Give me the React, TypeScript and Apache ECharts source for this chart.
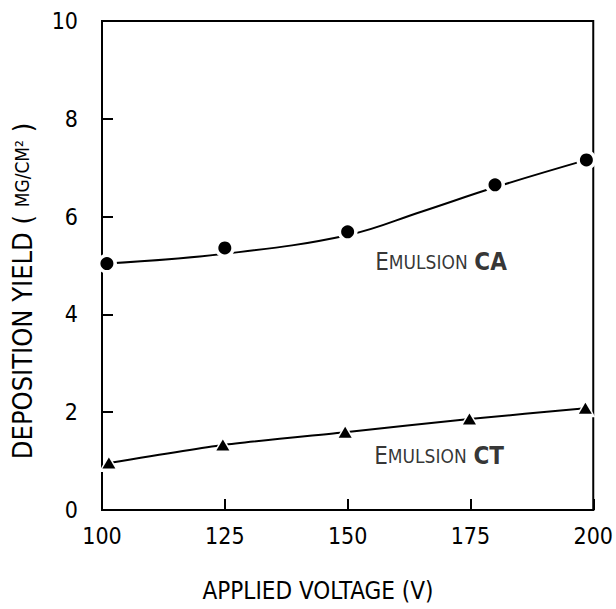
import React, { useEffect, useRef } from "react";
import * as echarts from "echarts";

const FONT = "'Liberation Sans Narrow', 'DejaVu Sans Condensed', 'Roboto Condensed', sans-serif";

// Marker data (applied voltage V, deposition yield mg/cm²)
const caX = [101, 125, 150, 180, 198.6];
const caY = [5.04, 5.36, 5.69, 6.65, 7.16];
const ctX = [101.4, 124.6, 149.5, 174.8, 198.4];
const ctY = [0.96, 1.33, 1.59, 1.86, 2.08];

// Drawn (fitted) curve for Emulsion CA
const caCurveX = [101, 125, 150, 165, 180, 199];
const caCurveY = [5.04, 5.24, 5.62, 6.1, 6.6, 7.17];

// Annotations
const annoText = ["CA", "CT"];
const annoX = [155.6, 155.4];
const annoY = [5.08, 1.1];

const xTitle = "APPLIED VOLTAGE (V)";
const yTitle = "DEPOSITION YIELD ( {s|MG/CM²} )";

const xTicks = { min: 100, max: 200, interval: 25 };
const yTicks = { min: 0, max: 10, interval: 2 };

function pairs(xs: number[], ys: number[]) {
  return xs.map((x, i) => [x, ys[i]]);
}

export default function App() {
  const ref = useRef<HTMLDivElement>(null);
  useEffect(() => {
    if (!ref.current) return;
    const chart = echarts.init(ref.current, undefined, { renderer: "svg" });
    const axisLine = { show: true, onZero: false, lineStyle: { color: "#000", width: 2 } };
    chart.setOption({
      animation: false,
      backgroundColor: "#fff",
      grid: {
        left: 102,
        right: 20,
        top: 21,
        bottom: 99,
        show: true,
        borderColor: "#000",
        borderWidth: 2,
      },
      graphic: [
        {
          type: "text",
          x: 318,
          y: 591,
          style: {
            text: xTitle,
            fill: "#000",
            font: `24px ${FONT}`,
            align: "center",
            verticalAlign: "middle",
          },
        },
        {
          type: "text",
          x: 22,
          y: 291,
          rotation: Math.PI / 2,
          style: {
            text: yTitle,
            fill: "#000",
            fontFamily: FONT,
            fontSize: 27,
            align: "center",
            verticalAlign: "middle",
            rich: { s: { fontFamily: FONT, fontSize: 19, fill: "#000" } },
          },
        },
      ],
      xAxis: {
        type: "value",
        min: xTicks.min,
        max: xTicks.max,
        interval: xTicks.interval,
        axisLine,
        axisTick: { show: true, inside: true, length: 11, lineStyle: { color: "#000", width: 2 } },
        splitLine: { show: false },
        axisLabel: { color: "#000", fontFamily: FONT, fontSize: 23, margin: 14 },
      },
      yAxis: {
        type: "value",
        min: yTicks.min,
        max: yTicks.max,
        interval: yTicks.interval,
        axisLine,
        axisTick: { show: true, inside: true, length: 11, lineStyle: { color: "#000", width: 2 } },
        splitLine: { show: false },
        axisLabel: { color: "#000", fontFamily: FONT, fontSize: 23, margin: 24, padding: [8, 0, 0, 0] },
      },
      series: [
        {
          type: "line",
          data: pairs(caCurveX, caCurveY),
          smooth: 0.4,
          showSymbol: false,
          symbol: "none",
          lineStyle: { color: "#000", width: 2 },
          z: 1,
        },
        {
          type: "line",
          data: pairs(ctX, ctY),
          smooth: 0.2,
          showSymbol: false,
          symbol: "none",
          lineStyle: { color: "#000", width: 2 },
          z: 1,
        },
        {
          type: "scatter",
          data: pairs(caX, caY),
          symbol: "circle",
          symbolSize: 20,
          itemStyle: { color: "#fff", opacity: 1 },
          z: 2,
        },
        {
          type: "scatter",
          data: pairs(ctX, ctY),
          symbol: "triangle",
          symbolSize: [20, 18],
          itemStyle: { color: "#fff", opacity: 1 },
          z: 2,
        },
        {
          type: "scatter",
          data: pairs(caX, caY),
          symbol: "circle",
          symbolSize: 13,
          itemStyle: { color: "#000", opacity: 1 },
          z: 3,
        },
        {
          type: "scatter",
          data: pairs(ctX, ctY),
          symbol: "triangle",
          symbolSize: [13, 11],
          itemStyle: { color: "#000", opacity: 1 },
          z: 3,
        },
        {
          type: "scatter",
          symbolSize: 0,
          silent: true,
          z: 4,
          data: annoText.map((t, i) => ({ value: [annoX[i], annoY[i]], name: t })),
          label: {
            show: true,
            position: "right",
            distance: 0,
            color: "#000",
            formatter: (p: any) => `{e|E}{m|MULSION}  {b|${p.name}}`,
            rich: {
              e: { fontFamily: FONT, fontSize: 24, color: "#000" },
              m: { fontFamily: FONT, fontSize: 19, color: "#000" },
              b: { fontFamily: FONT, fontSize: 24, fontWeight: "bold", color: "#000" },
            },
          },
        },
      ],
    });
    return () => chart.dispose();
  }, []);
  return (
    <div
      ref={ref}
      style={{ position: "absolute", left: 0, top: 0, width: 616, height: 609 }}
    />
  );
}
